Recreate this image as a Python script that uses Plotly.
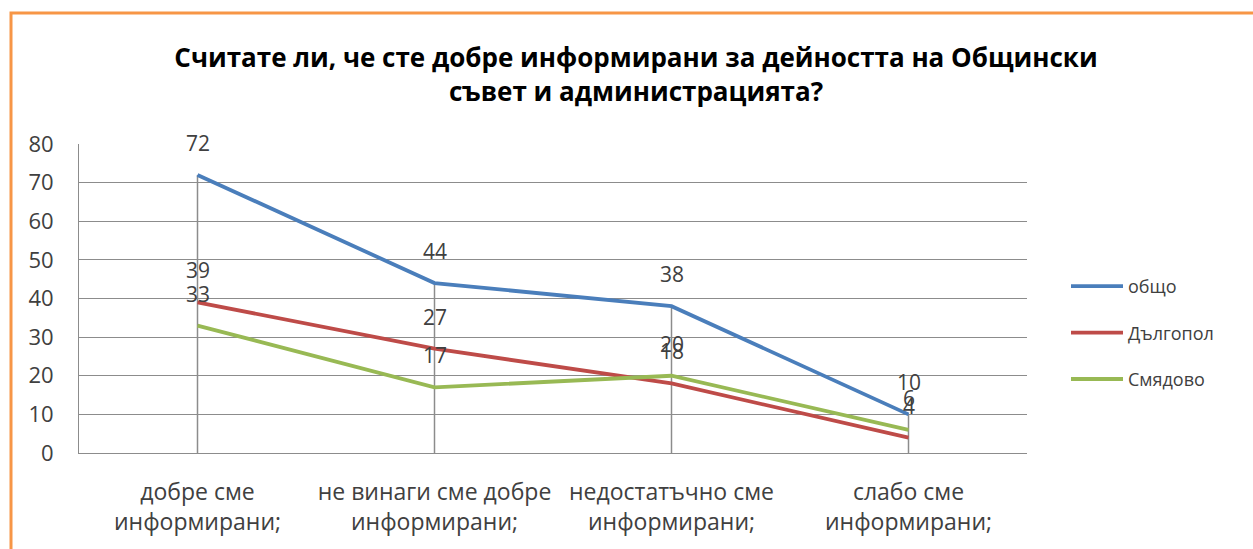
import plotly.graph_objects as go

categories = ["добре сме<br>информирани;", "не винаги сме добре<br>информирани;",
              "недостатъчно сме<br>информирани;", "слабо сме<br>информирани;"]
series_names = ["общо", "Дългопол", "Смядово"]
obshto = [72, 44, 38, 10]
dalgopol = [39, 27, 18, 4]
smyadovo = [33, 17, 20, 6]
y_ticks = [0, 10, 20, 30, 40, 50, 60, 70, 80]

colors = ["#4A7EBB", "#BE4B48", "#98B954"]
series = [obshto, dalgopol, smyadovo]
FONT = "Open Sans"
TXT = "#404040"

fig = go.Figure()

# drop lines from the axis to the highest point of each category
dx, dy = [], []
for i, c in enumerate(categories):
    dx += [c, c, None]
    dy += [0, max(s[i] for s in series), None]
fig.add_trace(go.Scatter(x=dx, y=dy, mode="lines", line=dict(color="#8C8C8C", width=1.5),
                         showlegend=False, hoverinfo="skip"))

for k, (name, vals, col) in enumerate(zip(series_names, series, colors)):
    fig.add_trace(go.Scatter(x=categories, y=vals, name=name, mode="lines",
                             line=dict(color=col, width=3.8), legendgroup=name))
    for c, v in zip(categories, vals):
        fig.add_annotation(x=c, y=v, text=str(v), showarrow=False, yshift=32,
                           font=dict(family=FONT, size=21, color=TXT))

fig.add_shape(type="rect", xref="paper", yref="paper",
              x0=(11 - 79) / 948, x1=(1262 - 79) / 948,
              y0=(453 - 560) / 309, y1=(453 - 13) / 309,
              line=dict(color="#F79646", width=3), layer="below")

fig.update_layout(
    width=1253, height=549,
    margin=dict(l=79, r=226, t=144, b=96),
    paper_bgcolor="white", plot_bgcolor="white",
    title=dict(text="<b>Считате ли, че сте добре информирани за дейността на Общински<br>съвет и администрацията?</b>",
               x=636 / 1253, xanchor="center", y=1 - 67 / 549, yanchor="middle",
               font=dict(family=FONT, size=26, color="black")),
    font=dict(family=FONT, size=18, color=TXT),
    legend=dict(x=(1066 - 79) / 948, xanchor="left", y=(453 - 333) / 309, yanchor="middle",
                font=dict(family=FONT, size=18, color=TXT), tracegroupgap=20,
                itemwidth=52, bgcolor="rgba(0,0,0,0)"),
    showlegend=True,
)
fig.update_xaxes(type="category", range=[-0.5, 3.5], showgrid=False, showline=True,
                 linecolor="#8C8C8C", linewidth=1, ticks="", tickfont=dict(size=23, color=TXT),
                 ticklabelstandoff=18)
fig.update_yaxes(range=[0, 80], tickvals=y_ticks, showgrid=True, gridcolor="#8C8C8C", gridwidth=1,
                 showline=True, linecolor="#8C8C8C", linewidth=1, ticks="", zeroline=False,
                 tickfont=dict(size=22, color=TXT), ticklabelstandoff=20)

fig.write_html("out.html", config={"displayModeBar": False},
               post_script="document.body.style.margin='0';")
